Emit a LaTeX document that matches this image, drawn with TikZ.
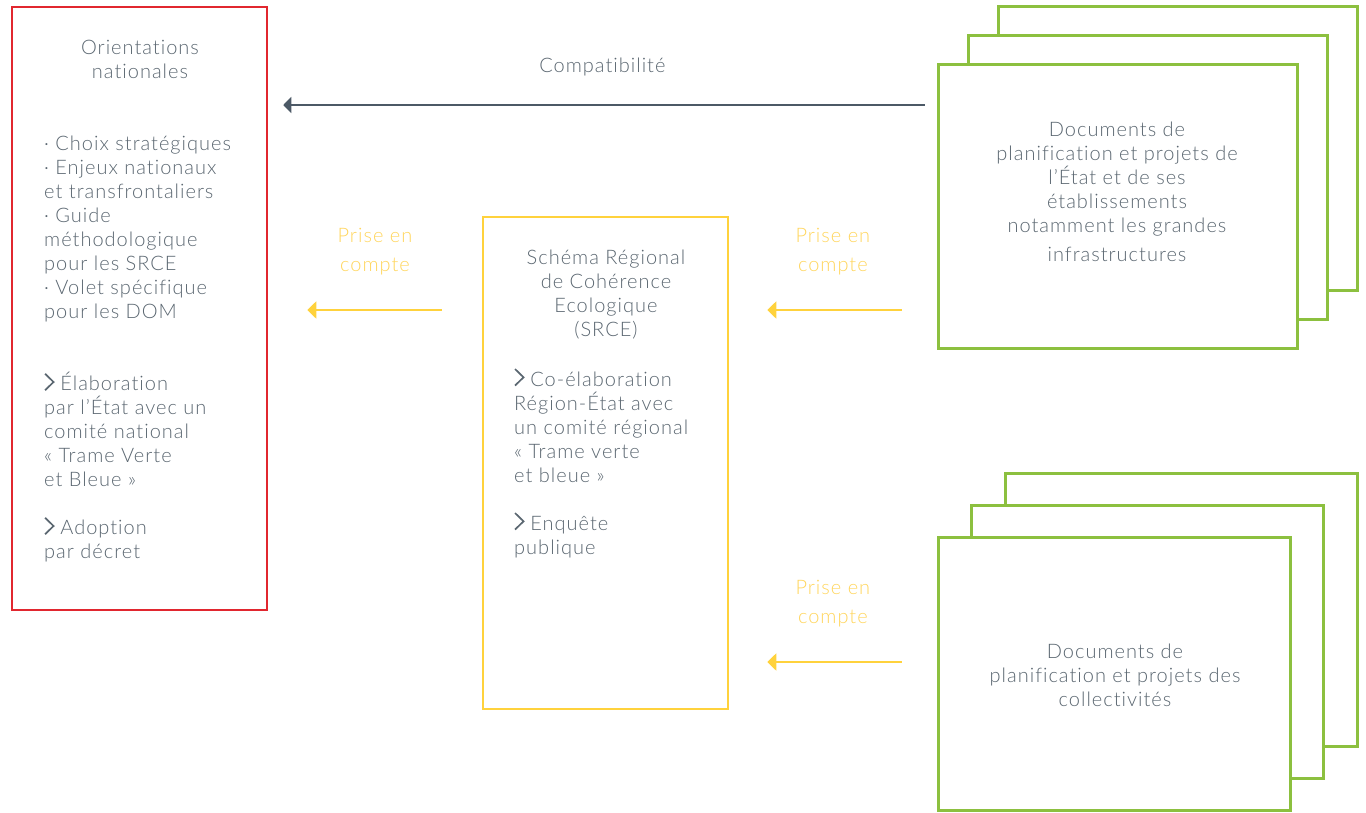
\documentclass[tikz,border=0pt]{standalone}
\usepackage{fontspec}
\setmainfont{Lato Light}[LetterSpace=5,Ligatures=NoCommon]
\usepackage{xcolor}
\usetikzlibrary{positioning,calc,arrows.meta}

\definecolor{txtgray}{HTML}{5B6771}
\definecolor{framered}{HTML}{E1272F}
\definecolor{srceyellow}{HTML}{FFD23C}
\definecolor{priseyellow}{HTML}{FFD55C}
\definecolor{docgreen}{HTML}{8CC03F}
\definecolor{arrowgray}{HTML}{4C5966}

\newcommand{\chevron}{\tikz[baseline=0pt]\draw[txtgray,line width=1.7pt] (0pt,17pt) -- (8.5pt,8.75pt) -- (0pt,0.5pt);\hspace{6pt}}

\begin{document}
\begin{tikzpicture}[x=1pt,y=1pt,
    bodytext/.style={text=txtgray,font=\fontsize{20}{24}\selectfont,inner sep=0pt},
    prisetext/.style={text=priseyellow,font=\fontsize{20}{29}\selectfont,align=center,inner sep=0pt},
    orientbox/.style={draw=framered,line width=2.5pt},
    srcebox/.style={draw=srceyellow,line width=2.5pt},
    docbox/.style={draw=docgreen,line width=3pt,fill=white},
    compatarrow/.style={draw=arrowgray,line width=1.6pt,-{Triangle[length=8pt,width=16pt]}},
    prisearrow/.style={draw=srceyellow,line width=1.8pt,-{Triangle[length=9pt,width=17pt]}}]
    \useasboundingbox (0,0) rectangle (1366,-812);

    % main frames
    \node[orientbox, minimum width=255pt, minimum height=603pt] (orient) at (139.5,-308.5) {};
    \node[srcebox, minimum width=245pt, minimum height=492pt] (srce) at (605.5,-463) {};

    % stacked documents
    \foreach \k in {2,1}
        \node[docbox, minimum width=359pt, minimum height=284pt] (etat\k) at ({1117.5+30*\k},{-206+29*\k}) {};
    \node[docbox, minimum width=359pt, minimum height=284pt] (etat) at (1117.5,-206) {};
    \foreach \k in {2,1}
        \node[docbox, minimum width=352pt, minimum height=273pt] (coll\k) at ({1114+33.5*\k},{-673.5+32*\k}) {};
    \node[docbox, minimum width=352pt, minimum height=273pt] (coll) at (1114,-673.5) {};

    % texts
    \node[bodytext, anchor=north, align=center] (orienttitle) at (140,-40) {Orientations\\nationales};
    \node[bodytext, anchor=north west, align=left] (orientlist) at (44,-136)
        {· Choix stratégiques\\ · Enjeux nationaux\\ et transfrontaliers\\ · Guide\\ méthodologique\\
         pour les SRCE\\ · Volet spécifique\\ pour les DOM\\[48pt]
         \chevron Élaboration\\ par l’État avec un\\ comité national\\ « Trame Verte\\ et Bleue »\\[24pt]
         \chevron Adoption\\ par décret};
    \node[bodytext, anchor=north, align=center] (srcetitle) at (606,-250)
        {Schéma Régional\\de Cohérence\\Ecologique\\(SRCE)};
    \node[bodytext, anchor=north west, align=left] (srcelist) at (514,-368)
        {\chevron Co-élaboration\\ Région-État avec\\ un comité régional\\ « Trame verte\\ et bleue »\\[24pt]
         \chevron Enquête\\ publique};
    \node[bodytext, anchor=north, align=center] (etattxt) at (1117,-122)
        {Documents de\\planification et projets de\\l’État et de ses\\établissements\\notamment les grandes\\[5pt]infrastructures};
    \node[bodytext, anchor=north, align=center] (colltxt) at (1115,-644)
        {Documents de\\planification et projets des\\collectivités};

    % relations
    \coordinate (compatrow) at ([yshift=-42.5pt]etat.north);
    \draw[compatarrow, shorten <=12pt, shorten >=15pt] (etat.west |- compatrow)
        -- node[bodytext, above=28pt] (compat) {Compatibilité} (orient.east |- compatrow);

    \coordinate (priserow) at ([yshift=-94.25pt]srce.north);
    \draw[prisearrow, shorten <=40pt, shorten >=39pt] (srce.west |- priserow)
        -- node[prisetext, above=34pt] (prise1) {Prise en\\compte} (orient.east |- priserow);
    \draw[prisearrow, shorten <=35pt, shorten >=38pt] (etat.west |- priserow)
        -- node[prisetext, above=34pt] (prise2) {Prise en\\compte} (srce.east |- priserow);
    \coordinate (priserowb) at ([yshift=-126.5pt]coll.north);
    \draw[prisearrow, shorten <=35pt, shorten >=38pt] (coll.west |- priserowb)
        -- node[prisetext, above=34pt] (prise3) {Prise en\\compte} (srce.east |- priserowb);
\end{tikzpicture}
\end{document}
